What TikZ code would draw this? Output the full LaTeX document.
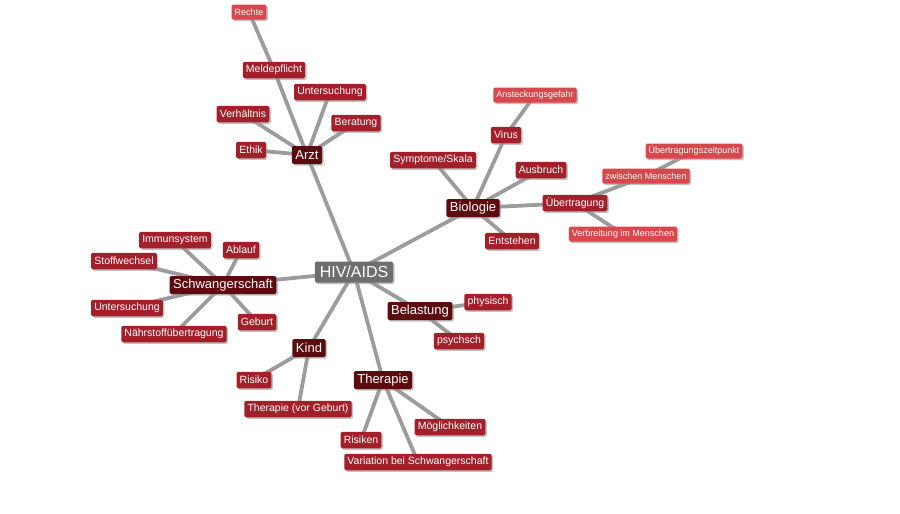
\documentclass[tikz,border=0pt]{standalone}
\usepackage{fontspec}
\setmainfont{Liberation Sans}
\usetikzlibrary{shadows,backgrounds}
\definecolor{rootc}{HTML}{6E6E6E}
\definecolor{mainc}{HTML}{5C0B0F}
\definecolor{leafc}{HTML}{A3202A}
\definecolor{lightc}{HTML}{D9464C}
\definecolor{edgec}{HTML}{9C9C9C}
\tikzset{
  base/.style={text=white, rounded corners=1.5pt, anchor=center, inner ysep=0pt,
    drop shadow={shadow xshift=1.5pt, shadow yshift=-1.5pt, fill=black!40, opacity=0.6}},
  rootbox/.style={base, fill=rootc, font=\fontsize{16}{18}\selectfont, inner xsep=5pt, minimum height=21pt},
  mainbox/.style={base, fill=mainc, font=\fontsize{13}{15}\selectfont, inner xsep=3.5pt, minimum height=18pt},
  leafbox/.style={base, fill=leafc, font=\fontsize{10.5}{12}\selectfont, inner xsep=3.2pt, minimum height=16.5pt},
  lightbox/.style={base, fill=lightc, font=\fontsize{9}{10}\selectfont, inner xsep=3pt, minimum height=15pt},
  link/.style={draw=edgec, line width=3.8pt}
}
\begin{document}
\begin{tikzpicture}[x=1pt,y=-1pt]
\useasboundingbox (0,0) rectangle (900,514);
% root
\node[rootbox] (hiv) at (354,272) {HIV/AIDS};
% Arzt
\node[mainbox] (arzt) at (307,155) {Arzt};
\node[leafbox] (ethik) at (251,150) {Ethik};
\node[leafbox] (verh) at (243,114) {Verhältnis};
\node[leafbox] (meld) at (274,70) {Meldepflicht};
\node[leafbox] (unta) at (330,92) {Untersuchung};
\node[leafbox] (berat) at (356,123) {Beratung};
\node[lightbox] (rechte) at (249,12) {Rechte};
% Biologie
\node[mainbox] (bio) at (473,208) {Biologie};
\node[leafbox] (sympt) at (433,160) {Symptome/Skala};
\node[leafbox] (virus) at (506,135) {Virus};
\node[lightbox] (anst) at (535,95) {Ansteckungsgefahr};
\node[leafbox] (ausb) at (541,170) {Ausbruch};
\node[leafbox] (uebt) at (575,203) {Übertragung};
\node[leafbox] (entst) at (512,241) {Entstehen};
\node[lightbox] (uzeit) at (694,151) {Übertragungszeitpunkt};
\node[lightbox] (zwm) at (646,176) {zwischen Menschen};
\node[lightbox] (verbr) at (623,234) {Verbreitung im Menschen};
% Schwangerschaft
\node[mainbox] (schw) at (223,285) {Schwangerschaft};
\node[leafbox] (immun) at (175,240) {Immunsystem};
\node[leafbox] (ablauf) at (241,250) {Ablauf};
\node[leafbox] (stoff) at (124,261) {Stoffwechsel};
\node[leafbox] (unts) at (127,308) {Untersuchung};
\node[leafbox] (naehr) at (174,334) {Nährstoffübertragung};
\node[leafbox] (geburt) at (257,322) {Geburt};
% Belastung
\node[mainbox] (bel) at (420,311) {Belastung};
\node[leafbox] (phys) at (488,302) {physisch};
\node[leafbox] (psych) at (459,341) {psychsch};
% Kind
\node[mainbox] (kind) at (309,348) {Kind};
\node[leafbox] (risiko) at (254,380) {Risiko};
\node[leafbox] (thvg) at (298,409) {Therapie (vor Geburt)};
% Therapie
\node[mainbox] (ther) at (383,380) {Therapie};
\node[leafbox] (moegl) at (450,427) {Möglichkeiten};
\node[leafbox] (risiken) at (361,440) {Risiken};
\node[leafbox] (var) at (418,462) {Variation bei Schwangerschaft};
\begin{scope}[on background layer]
\foreach \a/\b in {hiv/arzt, arzt/ethik, arzt/verh, arzt/meld, meld/rechte, arzt/unta, arzt/berat,
  hiv/bio, bio/sympt, bio/virus, virus/anst, bio/ausb, bio/uebt, bio/entst, uebt/zwm, zwm/uzeit, uebt/verbr,
  hiv/schw, schw/immun, schw/ablauf, schw/stoff, schw/unts, schw/naehr, schw/geburt,
  hiv/bel, bel/phys, bel/psych,
  hiv/kind, kind/risiko, kind/thvg,
  hiv/ther, ther/moegl, ther/risiken, ther/var}
  \draw[link] (\a.center) -- (\b.center);
\end{scope}
\end{tikzpicture}
\end{document}
